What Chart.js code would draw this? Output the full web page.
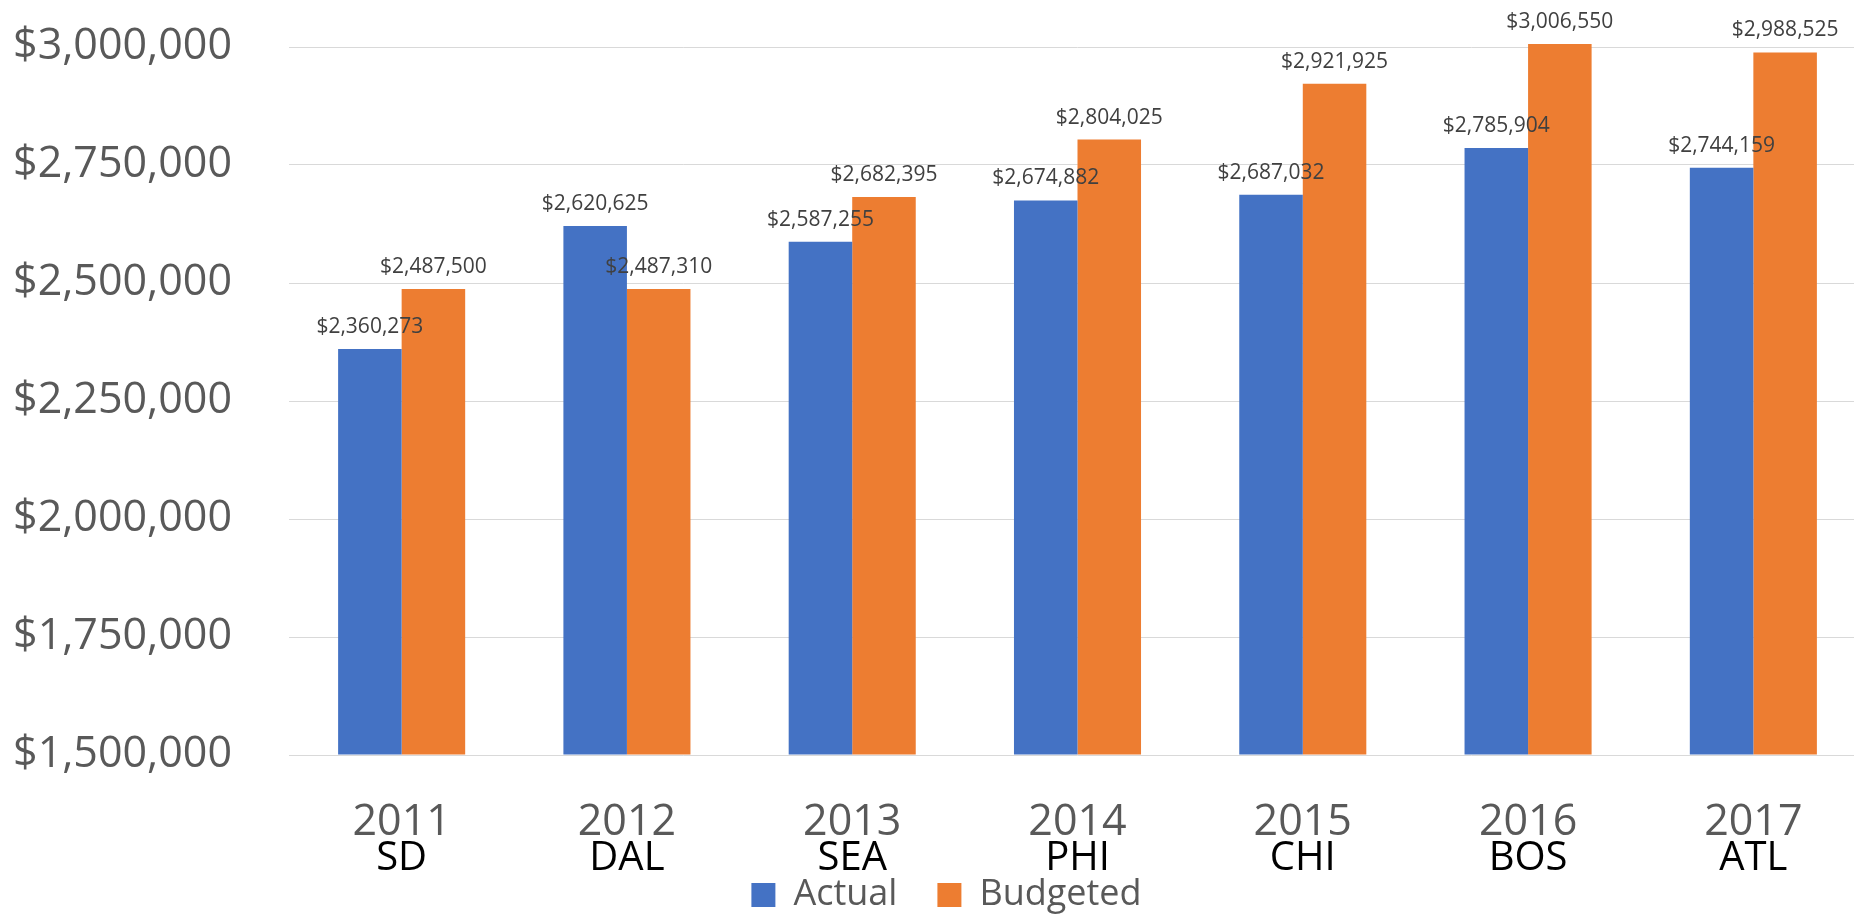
<!DOCTYPE html>
<html>
<head>
<meta charset="utf-8">
<script src="https://cdn.jsdelivr.net/npm/chart.js@4/dist/chart.umd.min.js"></script>
<style>
  html, body { margin: 0; padding: 0; overflow: hidden; background: #fff; }
  #wrap { width: 1894px; height: 923px; }
</style>
</head>
<body>
<div id="wrap"><canvas id="budgetChart"></canvas></div>
<script>
// values
const years = ['2011', '2012', '2013', '2014', '2015', '2016', '2017'];
const teams = ['SD', 'DAL', 'SEA', 'PHI', 'CHI', 'BOS', 'ATL'];
const actual = [2360273, 2620625, 2587255, 2674882, 2687032, 2785904, 2744159];
const budgeted = [2487500, 2487310, 2682395, 2804025, 2921925, 3006550, 2988525];
const yMin = 1500000;
const yMax = 3000000;
const yStep = 250000;

const FONT = '"Open Sans", "Noto Sans", sans-serif';

function money(v) {
    return '$' + Number(v).toLocaleString('en-US');
}

// value labels above each bar
const barLabels = {
    id: 'barLabels',
    afterDatasetsDraw(chart) {
        const ctx = chart.ctx;
        ctx.save();
        ctx.font = '21px ' + FONT;
        ctx.fillStyle = '#404040';
        ctx.textAlign = 'center';
        ctx.textBaseline = 'alphabetic';
        chart.data.datasets.forEach((ds, i) => {
            chart.getDatasetMeta(i).data.forEach((bar, j) => {
                ctx.fillText(money(ds.data[j]), bar.x, bar.y - 16);
            });
        });
        ctx.restore();
    }
};

// second line of the category axis (team names, in black)
const teamLabels = {
    id: 'teamLabels',
    afterLayout(chart) {
        // legend in the reference is centred a bit right of the plot
        chart.legend.left = 27;
    },
    afterDraw(chart) {
        const xs = chart.scales.x;
        const ctx = chart.ctx;
        ctx.save();
        ctx.font = '40px ' + FONT;
        ctx.fillStyle = '#000000';
        ctx.textAlign = 'center';
        ctx.textBaseline = 'middle';
        teams.forEach((t, i) => {
            ctx.fillText(t, xs.getPixelForTick(i), xs.top + 104);
        });
        ctx.restore();
    }
};

function loadChart() {
    const ctx = document.getElementById('budgetChart').getContext('2d');
    new Chart(ctx, {
        type: 'bar',
        data: {
            labels: years,
            datasets: [{
                label: 'Actual',
                data: actual,
                backgroundColor: '#4472C4',
                borderWidth: 0,
                base: yMin,
                clip: false
            }, {
                label: 'Budgeted',
                data: budgeted,
                backgroundColor: '#ED7D31',
                borderWidth: 0,
                base: yMin,
                clip: false
            }]
        },
        options: {
            responsive: true,
            maintainAspectRatio: false,
            animation: false,
            categoryPercentage: 0.564,
            barPercentage: 1.0,
            layout: { padding: { top: 47, left: 0, right: 28, bottom: 0 } },
            plugins: {
                legend: {
                    position: 'bottom',
                    labels: {
                        boxWidth: 24,
                        boxHeight: 24,
                        padding: 40,
                        color: '#595959',
                        font: { family: FONT, size: 36 }
                    }
                },
                tooltip: { enabled: false }
            },
            scales: {
                x: {
                    grid: { display: false },
                    border: { display: false },
                    ticks: {
                        color: '#595959',
                        padding: 34,
                        font: { family: FONT, size: 43 }
                    },
                    afterFit(scale) { scale.height = 82; }
                },
                y: {
                    min: yMin,
                    max: yMax,
                    grid: { color: '#d9d9d9', lineWidth: 1, drawTicks: false },
                    border: { display: false },
                    ticks: {
                        stepSize: yStep,
                        color: '#595959',
                        padding: 57,
                        font: { family: FONT, size: 43 },
                        callback: (v) => money(v)
                    },
                    afterFit(scale) {
                        scale.width = 289;
                        scale.paddingTop = 0;
                        scale.paddingBottom = 0;
                    }
                }
            }
        },
        plugins: [barLabels, teamLabels]
    });
}

document.addEventListener('DOMContentLoaded', loadChart);
</script>
</body>
</html>
